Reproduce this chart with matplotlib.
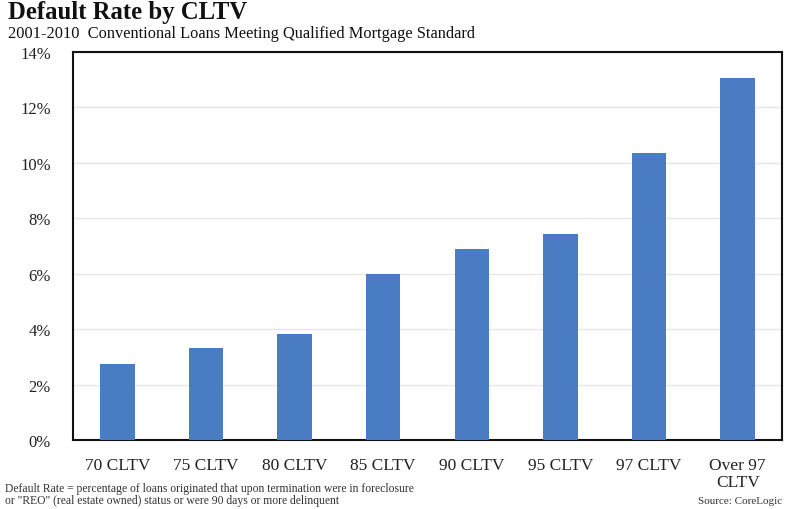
import matplotlib
matplotlib.use("Agg")
import matplotlib.pyplot as plt
from matplotlib.ticker import FuncFormatter, MultipleLocator

categories = ["70 CLTV", "75 CLTV", "80 CLTV", "85 CLTV", "90 CLTV", "95 CLTV", "97 CLTV", "Over 97\nCLTV"]
default_rate = [2.74, 3.32, 3.84, 5.98, 6.88, 7.44, 10.37, 13.07]

title = "Default Rate by CLTV"
subtitle = "2001-2010  Conventional Loans Meeting Qualified Mortgage Standard"
footnote = ("Default Rate = percentage of loans originated that upon termination were in foreclosure\n"
            "or \"REO\" (real estate owned) status or were 90 days or more delinquent")
source = "Source: CoreLogic"

plt.rcParams['font.family'] = ['Liberation Serif', 'DejaVu Serif']

fig = plt.figure(figsize=(7.85, 5.1), dpi=100)
ax = fig.add_axes([73/785, 1-441/510, (782-73)/785, (441-53)/510])

x = list(range(len(categories)))
ax.bar(x, default_rate, width=0.39, color="#4a7cc4", zorder=3)
ax.set_xlim(-0.5, len(categories)-0.5)
ax.set_ylim(0, 14)
ax.yaxis.set_major_locator(MultipleLocator(2))
ax.yaxis.set_major_formatter(FuncFormatter(lambda v, p: f"{v:.0f}%"))
ax.set_xticks(x)
ax.set_xticklabels(categories, fontsize=12.5, color="#222222", linespacing=1.15)
ax.tick_params(axis='y', labelsize=12, colors="#222222", length=0, pad=16)
ax.tick_params(axis='x', length=0, pad=12)
ax.grid(axis='y', color="#e6e6e6", linewidth=0.9, zorder=0)
for s in ax.spines.values():
    s.set_color("#111111")
    s.set_linewidth(1.5)

fig.text(8/785, 1-13/510, title, fontsize=17.8, fontweight='bold', va='center', ha='left', color="#111111")
fig.text(8/785, 1-34/510, subtitle, fontsize=11.8, va='center', ha='left', color="#111111")
fig.text(5/785, 1-495.5/510, footnote, fontsize=8.4, va='center', ha='left', color="#333333", linespacing=1.0)
fig.text(782/785, 1-502/510, source, fontsize=8.0, va='center', ha='right', color="#333333")

fig.savefig("out.png", dpi=100)
